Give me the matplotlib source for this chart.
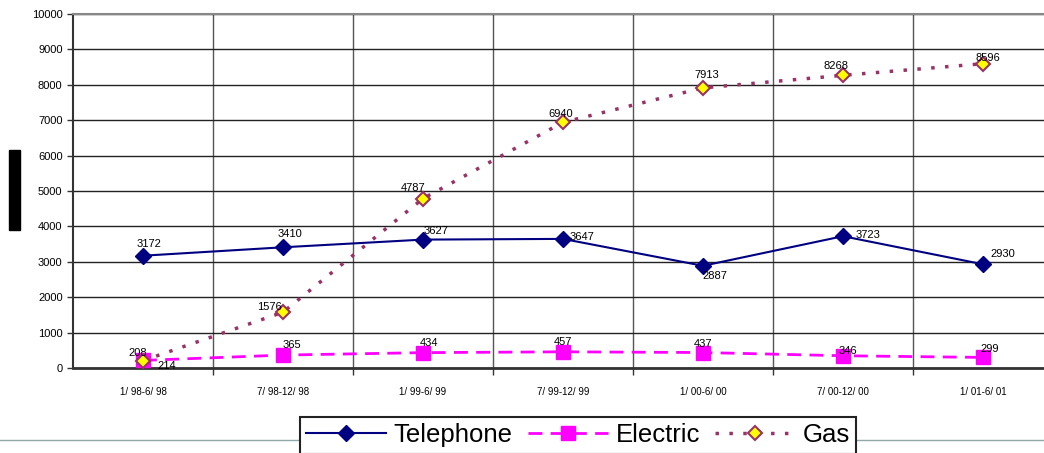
import numpy as np
import matplotlib.pyplot as plt
from matplotlib.lines import Line2D
from matplotlib.patches import Rectangle

plt.rcParams['font.family'] = ['Liberation Sans', 'DejaVu Sans']

# Data
periods = ['1/ 98-6/ 98', '7/ 98-12/ 98', '1/ 99-6/ 99', '7/ 99-12/ 99',
           '1/ 00-6/ 00', '7/ 00-12/ 00', '1/ 01-6/ 01']
telephone = [3172, 3410, 3627, 3647, 2887, 3723, 2930]
electric = [214, 365, 434, 457, 437, 346, 299]
gas = [208, 1576, 4787, 6940, 7913, 8268, 8596]

# label centre offsets from each point, in pixels (dx, dy up)
tel_off = [(6, 12), (7, 13), (13, 9), (19, 2), (12, -10), (25, 1), (20, 10)]
ele_off = [(24, -6), (9, 10), (6, 10), (0, 10), (0, 9), (5, 5), (7, 8)]
gas_off = [(-5, 8), (-14, 5), (-10, 11), (-2, 8), (4, 13), (-7, 9), (5, 6)]

fig = plt.figure(figsize=(10.44, 4.53), dpi=100)
ax = fig.add_axes([73 / 1044, 1 - 368 / 453, (1044 - 73) / 1044, 354 / 453])

x = np.arange(len(periods))

l1, = ax.plot(x, telephone, color='#000080', lw=1.5, marker='D', ms=8,
              mfc='#000080', mec='#000080', label='Telephone', zorder=4)
l2, = ax.plot(x, electric, color='#FF00FF', lw=2, ls=(0, (5, 3)), marker='s', ms=10,
              mfc='#FF00FF', mec='#FF00FF', label='Electric', zorder=3)
l3, = ax.plot(x, gas, color='#993366', lw=2.5, ls=(0, (1, 3)), marker='D', ms=7,
              mfc='#FFFF00', mec='#993366', mew=1.5, label='Gas', zorder=5)

px = 0.72  # points per pixel at 100 dpi
for vals, offs in [(telephone, tel_off), (electric, ele_off), (gas, gas_off)]:
    for xi, v, (dx, dy) in zip(x, vals, offs):
        ax.annotate(str(v), (xi, v), xytext=(dx * px, dy * px), textcoords='offset points',
                    fontsize=8, ha='center', va='center', zorder=6)

ax.set_xlim(-0.5, (1044 - 73) / 140 - 0.5)
ax.set_ylim(0, 10000)
ax.set_yticks(np.arange(0, 10001, 1000))
ax.set_xticks(x)
ax.set_xticklabels(periods, fontsize=7)
ax.tick_params(axis='x', length=0, pad=14)
ax.set_xticks(np.arange(0.5, 6.5, 1), minor=True)
ax.tick_params(axis='x', which='minor', length=5, width=1, color='#333333')
ax.tick_params(axis='y', labelsize=8, length=4, width=1, color='#333333')
ax.grid(axis='y', color='#222222', lw=1)
ax.grid(axis='x', which='minor', color='#555555', lw=1)
ax.set_axisbelow(True)
ax.spines['right'].set_visible(False)
ax.spines['top'].set_color('#888888')
ax.spines['top'].set_linewidth(1.5)
ax.spines['left'].set_color('#333333')
ax.spines['left'].set_linewidth(1.5)
ax.spines['bottom'].set_color('#333333')
ax.spines['bottom'].set_linewidth(2)

# decorative slide elements
fig.add_artist(Rectangle((9 / 1044, 1 - 230 / 453), 11 / 1044, 80 / 453,
                         transform=fig.transFigure, color='black'))
fig.add_artist(Line2D([0, 1], [1 - 440 / 453] * 2, transform=fig.transFigure,
                      color='#8fa8a8', lw=1, zorder=0))

leg = fig.legend(handles=[l1, l2, l3], loc='upper left',
                 bbox_to_anchor=(300 / 1044, 1 - 417 / 453), ncol=3,
                 fontsize=18.5, frameon=True, fancybox=False, edgecolor='#222222',
                 handlelength=3.1, columnspacing=0.6, handletextpad=0.3,
                 borderpad=0.25, borderaxespad=0)
leg.get_frame().set_facecolor('white')
leg.get_frame().set_alpha(1)
leg.get_frame().set_linewidth(1.5)
leg.set_zorder(10)

fig.savefig('out.png', dpi=100)
